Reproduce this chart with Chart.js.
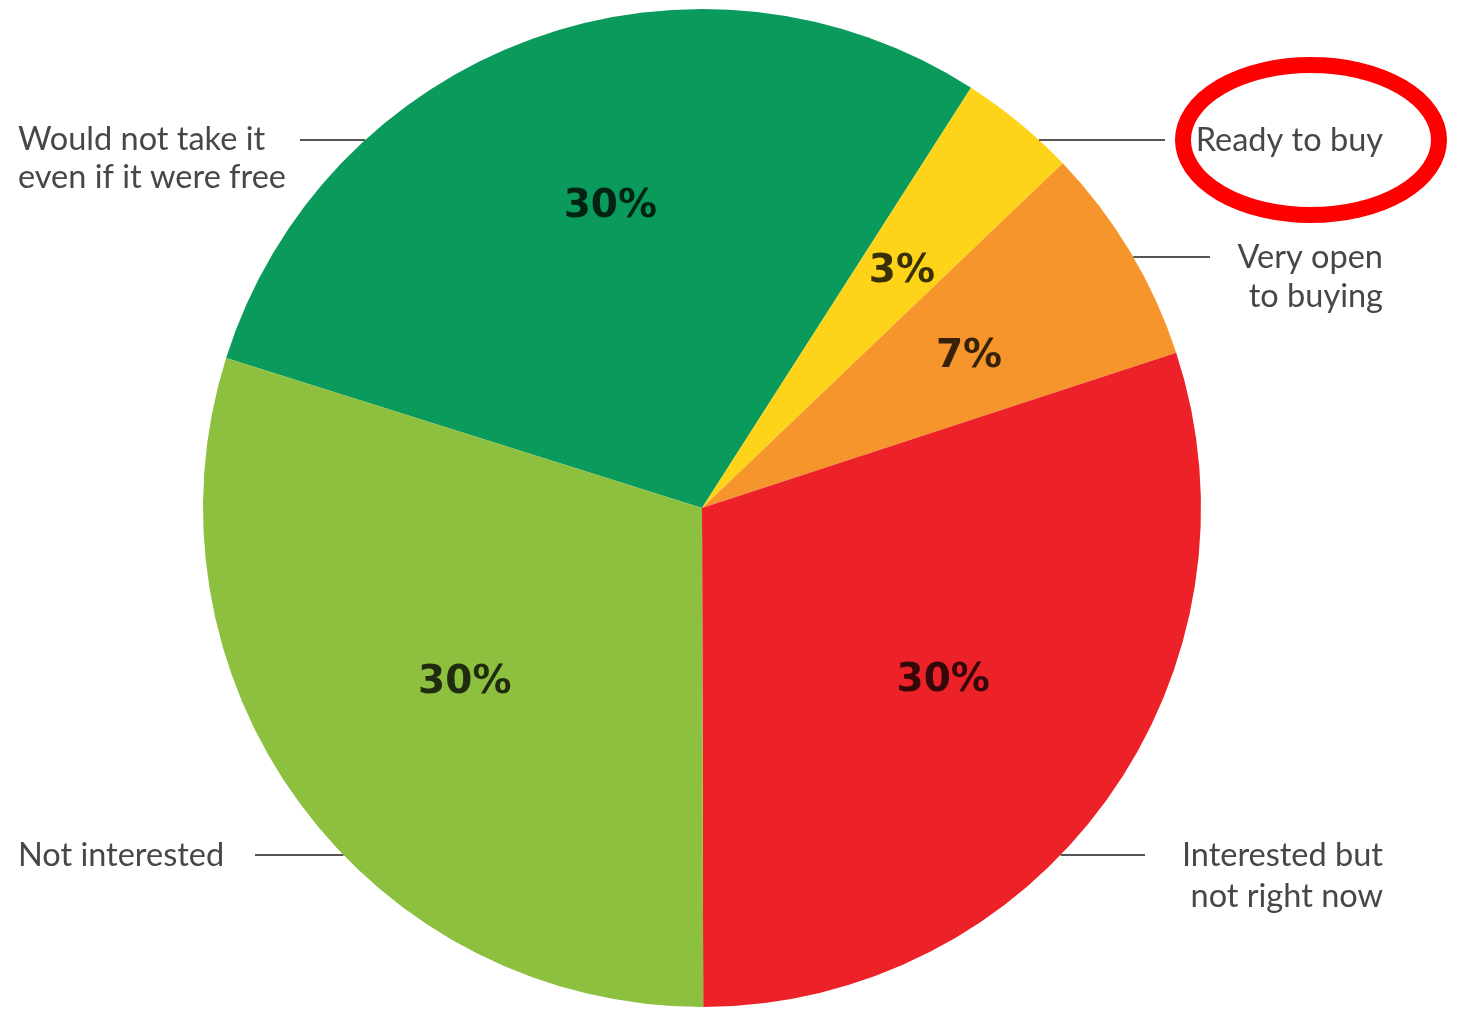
<!DOCTYPE html>
<html>
<head>
<meta charset="utf-8">
<script src="https://cdn.jsdelivr.net/npm/chart.js@4.4.1/dist/chart.umd.min.js"></script>
<style>
  html, body { margin: 0; padding: 0; background: #ffffff; }
  #wrap { width: 1458px; height: 1009px; }
</style>
</head>
<body>
<div id="wrap"><canvas id="c" width="1458" height="1009"></canvas></div>
<script>
// ---- data ----
const categories = [
  "Would not take it even if it were free",
  "Ready to buy",
  "Very open to buying",
  "Interested but not right now",
  "Not interested"
];
const sliceValues = [29.2, 3.8, 7.1, 30.0, 29.9];
// percentages printed on the slices
const printedLabels = ["30%", "3%", "7%", "30%", "30%"];
// outside label lines of text
const outsideText = [
  ["Would not take it", "even if it were free"],
  ["Ready to buy"],
  ["Very open", "to buying"],
  ["Interested but", "not right now"],
  ["Not interested"]
];

// ---- styling ----
const colors = ["#0A9A5C", "#FDD419", "#F6952B", "#EC2228", "#8DC03F"];
const pctRadiusFrac = [0.63, 0.62, 0.615, 0.595, 0.59];
const pctAngleShift = [3.0, 0.8, 1.4, -0.2, 0.0]; // degrees
// outside label layout
const outsideLayout = [
  { side: "left",  x: 18,   y: 140, gap: 38, lineY: 140, lineX: 300 },
  { side: "right", x: 1383, y: 141, gap: 38, lineY: 140, lineX: 1165 },
  { side: "right", x: 1383, y: 258, gap: 39, lineY: 257, lineX: 1210 },
  { side: "right", x: 1383, y: 856, gap: 41, lineY: 855, lineX: 1145 },
  { side: "left",  x: 18,   y: 856, gap: 38, lineY: 855, lineX: 255 }
];

const annotatePlugin = {
  id: "annotate",
  afterDraw(chart) {
    const ctx = chart.ctx;
    const meta = chart.getDatasetMeta(0);
    const arc0 = meta.data[0];
    const cx = arc0.x, cy = arc0.y, R = arc0.outerRadius;

    ctx.save();
    // percentages in slices
    ctx.font = "bold 39px 'DejaVu Sans', sans-serif";
    ctx.textAlign = "center";
    ctx.textBaseline = "middle";
    ctx.fillStyle = "rgba(0,0,0,0.78)";
    meta.data.forEach((arc, i) => {
      const mid = (arc.startAngle + arc.endAngle) / 2 + pctAngleShift[i] * Math.PI / 180;
      const r = R * pctRadiusFrac[i];
      ctx.fillText(printedLabels[i], cx + Math.cos(mid) * r, cy + Math.sin(mid) * r);
    });

    // leader lines
    ctx.strokeStyle = "#555555";
    ctx.lineWidth = 2;
    outsideLayout.forEach((L) => {
      const dy = L.lineY - cy;
      const half = Math.sqrt(Math.max(0, R * R - dy * dy));
      const edgeX = L.side === "left" ? cx - half : cx + half;
      ctx.beginPath();
      ctx.moveTo(L.lineX, L.lineY);
      ctx.lineTo(edgeX, L.lineY);
      ctx.stroke();
    });

    // outside text
    ctx.font = "32.5px Lato, 'Open Sans', sans-serif";
    ctx.fillStyle = "#474747";
    ctx.textBaseline = "middle";
    outsideLayout.forEach((L, i) => {
      ctx.textAlign = L.side === "left" ? "left" : "right";
      outsideText[i].forEach((t, k) => {
        ctx.fillText(t, L.x, L.y + k * L.gap);
      });
    });

    // red highlight ellipse around "Ready to buy"
    ctx.strokeStyle = "#FF0000";
    ctx.lineWidth = 16;
    ctx.beginPath();
    ctx.ellipse(1311, 140, 128, 75, 0, 0, Math.PI * 2);
    ctx.stroke();
    ctx.restore();
  }
};

new Chart(document.getElementById("c"), {
  type: "pie",
  data: {
    labels: categories,
    datasets: [{
      data: sliceValues,
      backgroundColor: colors,
      borderWidth: 0
    }]
  },
  options: {
    responsive: false,
    animation: false,
    rotation: -72.5,
    layout: { padding: { left: 203, right: 257, top: 9, bottom: 2 } },
    plugins: {
      legend: { display: false },
      tooltip: { enabled: false }
    }
  },
  plugins: [annotatePlugin]
});
</script>
</body>
</html>
